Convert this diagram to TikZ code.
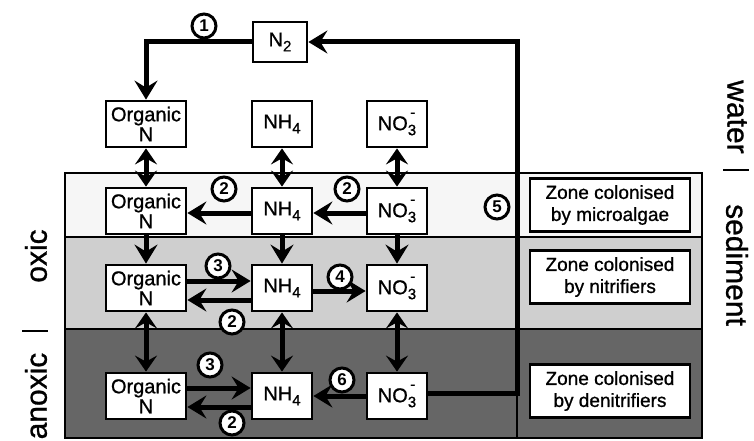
\documentclass[tikz,border=0pt]{standalone}
\usepackage{fontspec}
\setmainfont{Liberation Sans}
\newfontfamily\heavysans{Liberation Sans}[FakeBold=0.9]
\usetikzlibrary{arrows.meta}
\newcommand\mysub[1]{\raisebox{-5pt}{\fontsize{15}{15}\selectfont #1}}
\newcommand\nhfour{NH\mysub{4}}
\newcommand\ntwo{N\mysub{2}}
\newcommand\nothree{NO\mysub{3}\llap{\raisebox{13pt}{\fontsize{15}{15}\selectfont -}\hspace{1pt}}}
\tikzset{
  box/.style={draw, line width=2.8pt, fill=white, minimum height=46pt, inner sep=0pt, align=center, font=\heavysans\fontsize{20}{20}\selectfont},
  orgbox/.style={box, minimum width=80pt},
  smallbox/.style={box, minimum width=60pt},
  zonebox/.style={draw, line width=2.8pt, fill=white, minimum width=160pt, minimum height=53pt, inner sep=0pt, align=center, font=\heavysans\fontsize{19}{22}\selectfont},
  num/.style={circle, draw, line width=3pt, fill=white, inner sep=0pt, minimum size=24pt, font=\bfseries\fontsize{17}{17}\selectfont},
  flow/.style={line width=5pt, -{Stealth[length=19pt,width=23pt,inset=7pt]}},
  dflow/.style={line width=5pt, {Stealth[length=16pt,width=22pt,inset=6pt]}-{Stealth[length=16pt,width=22pt,inset=6pt]}},
  biglabel/.style={font=\heavysans\fontsize{30}{30}\selectfont, inner sep=0pt}
}
\begin{document}
\begin{tikzpicture}[x=1pt,y=-1pt]
\useasboundingbox (0,0) rectangle (754,441);
% bands
\fill[gray!7] (65,173) rectangle (702,237);
\fill[gray!38] (65,237) rectangle (702,329);
\fill[black!60] (65,329) rectangle (702,438);
\draw[line width=2.8pt] (65,173) rectangle (702,438);
\draw[line width=2.2pt] (65,237) -- (702,237);
\draw[line width=2.2pt] (65,329) -- (702,329);
\draw[line width=2.5pt] (517,173) -- (517,438);
% side labels
\node[biglabel, rotate=-90] (water) at (737,117) {water};
\draw[line width=1.5pt] (723,170) -- (749,170);
\node[biglabel, rotate=-90] (sed) at (737,265) {sediment};
\node[biglabel, rotate=90] (oxic) at (36,256) {oxic};
\draw[line width=1.5pt] (22,331) -- (48,331);
\node[biglabel, rotate=90] (anoxic) at (36,396) {anoxic};
% boxes
\node[box, minimum width=54pt, minimum height=40pt] (n2) at (280,42) {\ntwo};
\node[orgbox] (onw) at (146,124) {Organic\\N};
\node[smallbox] (nhw) at (282,124) {\nhfour};
\node[smallbox] (now) at (397,124) {\nothree};
\node[orgbox] (ona) at (146,211) {Organic\\N};
\node[smallbox] (nha) at (282,211) {\nhfour};
\node[smallbox] (noa) at (397,211) {\nothree};
\node[orgbox] (onb) at (146,288) {Organic\\N};
\node[smallbox] (nhb) at (282,288) {\nhfour};
\node[smallbox] (nob) at (397,288) {\nothree};
\node[orgbox] (onc) at (146,396) {Organic\\N};
\node[smallbox] (nhc) at (282,396) {\nhfour};
\node[smallbox] (noc) at (397,396) {\nothree};
\node[zonebox] (z1) at (610,205) {Zone colonised\\by microalgae};
\node[zonebox] (z2) at (610,277) {Zone colonised\\by nitrifiers};
\node[zonebox] (z3) at (610,391) {Zone colonised\\by denitrifiers};
% cycle
\coordinate (rt) at (517,42);
\draw[flow] (n2.west) -| (onw.north);
\draw[flow] ([yshift=3pt]noc.east) -| (rt) -- (n2.east);
% vertical exchanges
\draw[dflow] (onw.south) -- (ona.north);
\draw[dflow] (nhw.south) -- (nha.north);
\draw[dflow] (now.south) -- (noa.north);
\draw[flow] (ona.south) -- (onb.north);
\draw[flow] (nha.south) -- (nhb.north);
\draw[flow] (noa.south) -- (nob.north);
\draw[dflow] (onb.south) -- (onc.north);
\draw[dflow] (nhb.south) -- (nhc.north);
\draw[dflow] (nob.south) -- (noc.north);
% horizontal processes
\draw[flow] ([yshift=-2pt]nha.west) -- ([yshift=-2pt]ona.east);
\draw[flow] ([yshift=-2pt]noa.west) -- ([yshift=-2pt]nha.east);
\draw[flow] ([yshift=7pt]onb.east) -- ([yshift=7pt]nhb.west);
\draw[flow] ([yshift=-12pt]nhb.west) -- ([yshift=-12pt]onb.east);
\draw[flow] ([yshift=-3pt]nhb.east) -- ([yshift=-3pt]nob.west);
\draw[flow] ([yshift=8pt]onc.east) -- ([yshift=8pt]nhc.west);
\draw[flow] ([yshift=-11pt]nhc.west) -- ([yshift=-11pt]onc.east);
\draw[flow] (noc.west) -- (nhc.east);
% process numbers
\node[num] (p1) at (204,26) {1};
\node[num] (p2a) at (224,189) {2};
\node[num] (p2b) at (347,189) {2};
\node[num] (p5) at (497,207) {5};
\node[num] (p3a) at (218,266) {3};
\node[num] (p4) at (340,277) {4};
\node[num] (p2c) at (232,322) {2};
\node[num] (p3b) at (210,365) {3};
\node[num] (p6) at (342,380) {6};
\node[num] (p2d) at (232,423) {2};
\end{tikzpicture}
\end{document}
